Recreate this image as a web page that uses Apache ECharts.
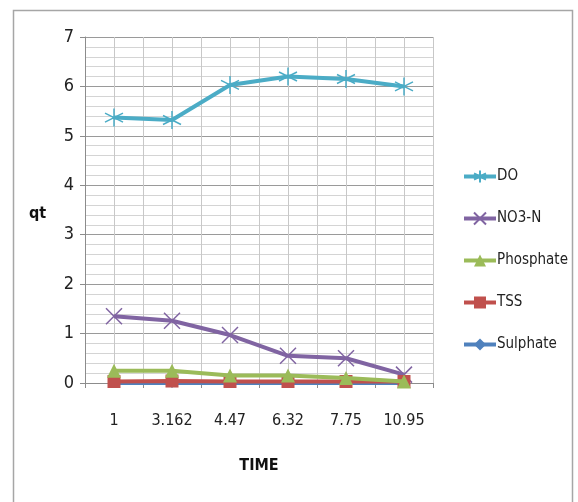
<!DOCTYPE html>
<html>
<head>
<meta charset="utf-8">
<script src="https://cdn.jsdelivr.net/npm/echarts@6/dist/echarts.min.js"></script>
<style>
html, body { margin: 0; padding: 0; background: #fff; }
#container { width: 578px; height: 502px; }
</style>
</head>
<body>
<div id="container"></div>
<script>
// values
var times = ['1', '3.162', '4.47', '6.32', '7.75', '10.95'];
var doVals = [5.37, 5.32, 6.03, 6.2, 6.15, 6.0];
var no3Vals = [1.35, 1.26, 0.97, 0.55, 0.5, 0.17];
var phosVals = [0.25, 0.25, 0.15, 0.15, 0.1, 0.03];
var tssVals = [0.03, 0.04, 0.03, 0.03, 0.03, 0.03];
var sulphVals = [0, 0, 0, 0, 0, 0];

var fontName = '"Liberation Sans Narrow", "DejaVu Sans Condensed", sans-serif';

// asterisk and cross markers like the spreadsheet ones
var starPath = 'path://M0,-10L0,10M-8.7,-5L8.7,5M-8.7,5L8.7,-5';
var crossPath = 'path://M-8,-8L8,8M-8,8L8,-8';

var dom = document.getElementById('container');
var myChart = echarts.init(dom);

function lineSeries(name, vals, color, symbol, size, z) {
    return {
        name: name,
        type: 'line',
        data: vals,
        symbol: symbol,
        symbolSize: size,
        z: z,
        lineStyle: { color: color, width: 4 },
        itemStyle: { color: color, borderColor: color, borderWidth: symbol.indexOf('path') === 0 ? 1.5 : 0 },
        emphasis: { disabled: true }
    };
}

var option = {
    animation: false,
    graphic: [{
        type: 'rect',
        shape: { x: 13.5, y: 10.5, width: 559, height: 520 },
        style: { fill: 'none', stroke: '#a6a6a6', lineWidth: 1.5 },
        silent: true
    }, {
        // y axis title sits a little under the middle of the axis
        type: 'text',
        left: 29,
        top: 206,
        style: { text: 'qt', fontFamily: fontName, fontSize: 16, fontWeight: 'bold', fill: '#111' },
        silent: true
    }],
    grid: { left: 85, top: 37, right: 145, bottom: 119, containLabel: false },
    legend: {
        orient: 'vertical',
        left: 457,
        top: 164,
        itemGap: 27,
        itemWidth: 32,
        itemHeight: 15,
        lineStyle: { width: 4 },
        textStyle: { fontFamily: fontName, fontSize: 15, color: '#222', padding: [0, 0, 0, -4] },
        data: ['DO', 'NO3-N', 'Phosphate', 'TSS', 'Sulphate']
    },
    xAxis: [{
        type: 'category',
        data: times,
        boundaryGap: true,
        name: 'TIME',
        nameLocation: 'middle',
        nameGap: 75,
        nameTextStyle: { fontFamily: fontName, fontSize: 16, fontWeight: 'bold', color: '#111' },
        axisLine: { lineStyle: { color: '#8c8c8c', width: 1 } },
        axisTick: { show: true, length: 5, lineStyle: { color: '#8c8c8c' } },
        axisLabel: { fontFamily: fontName, fontSize: 16, color: '#222', margin: 30 },
        splitLine: { show: true, lineStyle: { color: '#c8c8c8', width: 1 } }
    }, {
        // helper axis: extra vertical grid lines through the category centres
        type: 'value',
        min: 0,
        max: 12,
        interval: 1,
        show: true,
        position: 'bottom',
        axisLine: { show: false },
        axisTick: { show: false },
        axisLabel: { show: false },
        splitLine: { show: true, lineStyle: { color: '#c8c8c8', width: 1 } }
    }],
    yAxis: {
        type: 'value',
        min: 0,
        max: 7,
        interval: 1,
        axisLine: { show: true, lineStyle: { color: '#8c8c8c' } },
        axisTick: { show: true, length: 5, lineStyle: { color: '#8c8c8c' } },
        axisLabel: { fontFamily: fontName, fontSize: 18, color: '#222', margin: 11 },
        splitLine: { show: true, lineStyle: { color: '#9a9a9a', width: 1 } },
        minorTick: { show: false, splitNumber: 5 },
        minorSplitLine: { show: true, lineStyle: { color: '#d4d4d4', width: 1 } }
    },
    series: [
        lineSeries('DO', doVals, '#4bacc6', starPath, 18, 5),
        lineSeries('NO3-N', no3Vals, '#8064a2', crossPath, 16, 6),
        lineSeries('Phosphate', phosVals, '#9bbb59', 'triangle', 14, 8),
        lineSeries('TSS', tssVals, '#c0504d', 'rect', 13, 7),
        lineSeries('Sulphate', sulphVals, '#4f81bd', 'diamond', 10, 4)
    ]
};

myChart.setOption(option);
</script>
</body>
</html>
